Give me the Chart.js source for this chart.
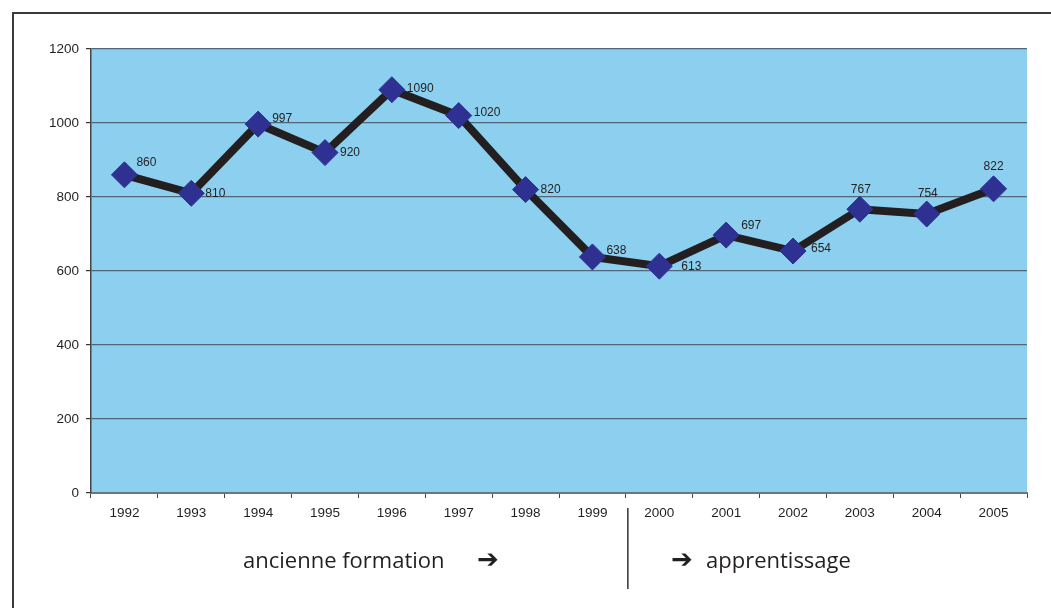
<!DOCTYPE html>
<html>
<head>
<meta charset="utf-8">
<script src="https://cdn.jsdelivr.net/npm/chart.js@4.4.0/dist/chart.umd.min.js"></script>
<style>
  html, body { margin: 0; padding: 0; background: #fff; }
  #wrap { width: 1051px; height: 608px; position: relative; }
</style>
</head>
<body>
<div id="wrap"><canvas id="chart" width="1051" height="608"></canvas></div>
<script>
// data
const years = ['1992', '1993', '1994', '1995', '1996', '1997', '1998', '1999',
               '2000', '2001', '2002', '2003', '2004', '2005'];
const students = [860, 810, 997, 920, 1090, 1020, 820, 638, 613, 697, 654, 767, 754, 822];
const yTicks = [0, 200, 400, 600, 800, 1000, 1200];
const leftNote = 'ancienne formation';
const rightNote = 'apprentissage';

// where each value label sits relative to its point (dx, dy, align)
const labelPos = [
  [12, -12, 'left'], [14, 0, 'left'], [14, -5, 'left'], [15, 0, 'left'],
  [15, -1, 'left'], [15, -3, 'left'], [15, 0, 'left'], [14, -6, 'left'],
  [22, 0, 'left'], [15, -9, 'left'], [18, -2, 'left'], [1, -20, 'center'],
  [1, -20, 'center'], [0, -22, 'center']
];

const plotBg = {
  id: 'plotBg',
  beforeDraw(chart) {
    const { ctx, chartArea: a } = chart;
    ctx.save();
    ctx.fillStyle = '#8dcfee';
    ctx.fillRect(a.left, a.top, a.right - a.left, a.bottom - a.top);
    ctx.restore();
  }
};

const extras = {
  id: 'extras',
  afterDraw(chart) {
    const { ctx } = chart;
    const meta = chart.getDatasetMeta(0);
    ctx.save();
    // value labels
    ctx.font = '12px "Liberation Sans", Arial, sans-serif';
    ctx.fillStyle = '#231f20';
    ctx.textBaseline = 'middle';
    meta.data.forEach((pt, i) => {
      const p = labelPos[i];
      ctx.textAlign = p[2];
      ctx.fillText(String(students[i]), pt.x + p[0], pt.y + p[1]);
    });

    // frame (left + top)
    ctx.strokeStyle = '#3a3a3a';
    ctx.lineWidth = 2;
    ctx.beginPath();
    ctx.moveTo(13, 608);
    ctx.lineTo(13, 13);
    ctx.lineTo(1051, 13);
    ctx.stroke();

    // separator between the two periods
    const x = chart.scales.x;
    const sepX = (x.getPixelForValue(7) + x.getPixelForValue(8)) / 2 + 2;
    ctx.strokeStyle = '#333';
    ctx.lineWidth = 1.5;
    ctx.beginPath();
    ctx.moveTo(sepX, 508);
    ctx.lineTo(sepX, 589);
    ctx.stroke();

    // period notes
    ctx.fillStyle = '#231f20';
    ctx.textAlign = 'left';
    ctx.textBaseline = 'alphabetic';
    ctx.font = '22px "Open Sans", "Noto Sans", sans-serif';
    ctx.fillText(leftNote, 243, 568);
    ctx.fillText(rightNote, 706, 568);
    ctx.font = 'bold 26px "DejaVu Sans", sans-serif';
    ctx.fillText('\u2794', 477, 568);
    ctx.fillText('\u2794', 671, 568);
    ctx.restore();
  }
};

const tickFont = { family: '"Liberation Sans", Arial, sans-serif', size: 13.5 };

new Chart(document.getElementById('chart'), {
  type: 'line',
  data: {
    labels: years,
    datasets: [{
      data: students,
      borderColor: '#231f20',
      borderWidth: 8,
      tension: 0,
      pointStyle: 'rectRot',
      pointRadius: 13,
      pointHoverRadius: 13,
      pointBackgroundColor: '#2e3192',
      pointBorderColor: '#2e3192',
      pointBorderWidth: 1
    }]
  },
  plugins: [plotBg, extras],
  options: {
    responsive: false,
    animation: false,
    events: [],
    layout: { padding: { left: 0, top: 49, right: 24, bottom: 0 } },
    plugins: { legend: { display: false }, tooltip: { enabled: false } },
    scales: {
      x: {
        offset: true,
        afterFit(s) { s.height = 115; },
        grid: {
          offset: true,
          drawOnChartArea: false,
          tickLength: 5,
          color: '#444',
          lineWidth: 1
        },
        border: { color: '#6b7780', width: 2 },
        ticks: { padding: 7, color: '#231f20', font: tickFont }
      },
      y: {
        min: 0,
        max: 1200,
        afterFit(s) { s.width = 91; },
        afterBuildTicks(s) { s.ticks = yTicks.map(v => ({ value: v })); },
        grid: {
          color: '#4f6778',
          lineWidth: 1.2,
          tickLength: 5,
          tickColor: '#333'
        },
        border: { color: '#444', width: 1.5 },
        ticks: {
          padding: 7,
          color: '#231f20',
          font: tickFont,
          callback: v => String(v)
        }
      }
    }
  }
});
</script>
</body>
</html>
